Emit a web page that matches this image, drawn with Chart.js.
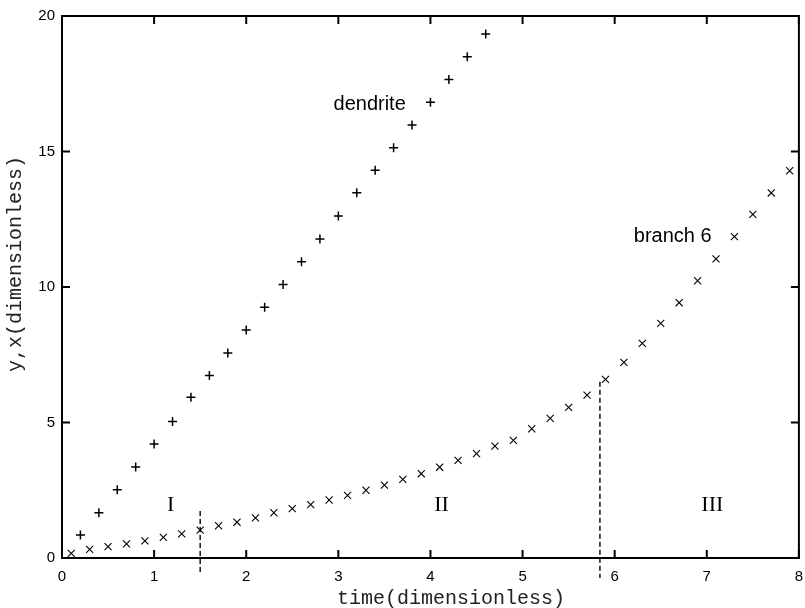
<!DOCTYPE html>
<html>
<head>
<meta charset="utf-8">
<script src="https://cdn.jsdelivr.net/npm/chart.js@4/dist/chart.umd.min.js"></script>
<style>
html,body{margin:0;padding:0;background:#fff;}
canvas{display:block;}
</style>
</head>
<body>
<canvas id="c" width="805" height="608"></canvas>
<script>
// ---- data ----
const dendriteTime = [0.2,0.4,0.6,0.8,1.0,1.2,1.4,1.6,1.8,2.0,2.2,2.4,2.6,2.8,3.0,3.2,3.4,3.6,3.8,4.0,4.2,4.4,4.6];
const dendriteY = [0.85,1.67,2.52,3.36,4.21,5.04,5.93,6.73,7.56,8.41,9.25,10.09,10.93,11.77,12.62,13.48,14.31,15.14,15.98,16.82,17.66,18.5,19.34];
const branchTime = [0.1,0.3,0.5,0.7,0.9,1.1,1.3,1.5,1.7,1.9,2.1,2.3,2.5,2.7,2.9,3.1,3.3,3.5,3.7,3.9,4.1,4.3,4.5,4.7,4.9,5.1,5.3,5.5,5.7,5.9,6.1,6.3,6.5,6.7,6.9,7.1,7.3,7.5,7.7,7.9];
const branchX = [0.17,0.32,0.42,0.52,0.63,0.76,0.89,1.03,1.19,1.32,1.48,1.67,1.82,1.97,2.14,2.31,2.5,2.69,2.9,3.11,3.35,3.6,3.85,4.13,4.34,4.77,5.15,5.56,6.01,6.59,7.22,7.92,8.66,9.42,10.23,11.04,11.86,12.68,13.47,14.29];
const regionBoundaryTime = [1.5, 5.84];
const regionBoundaryTop = [1.73, 6.5];
const regionBoundaryBottom = [-0.6, -0.74];
const regionLabels = ['I','II','III'];
const regionLabelTime = [1.18, 4.12, 7.06];
const regionLabelY = 1.95;
const seriesLabels = ['dendrite','branch 6'];
const seriesLabelPos = [[3.34, 16.75], [6.63, 11.87]];
const xTickValues = [0,1,2,3,4,5,6,7,8];
const yTickValues = [0,5,10,15,20];
const xTitle = 'time(dimensionless)';
const yTitle = 'y,x(dimensionless)';

const toPts = (xs, ys) => xs.map((x, i) => ({x: x, y: ys[i]}));

const datasets = [
  {label: seriesLabels[0], data: toPts(dendriteTime, dendriteY), pointStyle: 'cross', pointRadius: 4.5,
   borderColor: '#000', backgroundColor: '#000', pointBorderWidth: 1.5, showLine: false},
  {label: seriesLabels[1], data: toPts(branchTime, branchX), pointStyle: 'crossRot', pointRadius: 5,
   borderColor: '#000', backgroundColor: '#000', pointBorderWidth: 1.1, showLine: false}
];
regionBoundaryTime.forEach((t, i) => {
  datasets.push({type: 'line', data: [{x: t, y: regionBoundaryTop[i]}, {x: t, y: regionBoundaryBottom[i]}],
    borderColor: '#000', borderWidth: 1.4, borderDash: [5, 3], pointRadius: 0, clip: false, showLine: true});
});

const decor = {
  id: 'decor',
  afterDraw(chart) {
    const ctx = chart.ctx, a = chart.chartArea;
    const xs = chart.scales.x, ys = chart.scales.y;
    ctx.save();
    ctx.strokeStyle = '#000';
    ctx.lineWidth = 2;
    ctx.strokeRect(a.left, a.top, a.right - a.left, a.bottom - a.top);
    const tl = 8;
    ctx.beginPath();
    xTickValues.forEach(v => {
      const px = xs.getPixelForValue(v);
      ctx.moveTo(px, a.bottom); ctx.lineTo(px, a.bottom - tl);
      ctx.moveTo(px, a.top); ctx.lineTo(px, a.top + tl);
    });
    yTickValues.forEach(v => {
      const py = ys.getPixelForValue(v);
      ctx.moveTo(a.left, py); ctx.lineTo(a.left + tl, py);
      ctx.moveTo(a.right, py); ctx.lineTo(a.right - tl, py);
    });
    ctx.stroke();

    ctx.fillStyle = '#000';
    ctx.textAlign = 'center';
    ctx.textBaseline = 'middle';
    ctx.font = '22px "Liberation Serif"';
    regionLabels.forEach((s, i) => {
      ctx.fillText(s, xs.getPixelForValue(regionLabelTime[i]), ys.getPixelForValue(regionLabelY));
    });
    ctx.font = '20px "Liberation Sans"';
    seriesLabels.forEach((s, i) => {
      ctx.fillText(s, xs.getPixelForValue(seriesLabelPos[i][0]), ys.getPixelForValue(seriesLabelPos[i][1]));
    });
    ctx.font = '20px "Liberation Mono"';
    ctx.fillStyle = '#222';
    ctx.fillText(xTitle, 451, 599);
    ctx.translate(16, 264);
    ctx.rotate(-Math.PI / 2);
    ctx.fillText(yTitle, 0, 0);
    ctx.restore();
  }
};

new Chart(document.getElementById('c'), {
  type: 'scatter',
  data: {datasets: datasets},
  options: {
    responsive: false,
    animation: false,
    layout: {padding: {top: 16, right: 6, left: 0, bottom: 0}},
    plugins: {legend: {display: false}, tooltip: {enabled: false}},
    scales: {
      x: {
        type: 'linear', min: 0, max: 8,
        afterBuildTicks: s => { s.ticks = xTickValues.map(v => ({value: v})); },
        ticks: {color: '#000', font: {family: 'Liberation Sans', size: 15}, padding: 10, maxRotation: 0},
        grid: {display: false, drawTicks: false},
        border: {display: false},
        afterFit: s => { s.height = 50; s.paddingLeft = 0; s.paddingRight = 0; }
      },
      y: {
        type: 'linear', min: 0, max: 20,
        afterBuildTicks: s => { s.ticks = yTickValues.map(v => ({value: v})); },
        ticks: {color: '#000', font: {family: 'Liberation Sans', size: 15}, padding: 7},
        grid: {display: false, drawTicks: false},
        border: {display: false},
        afterFit: s => { s.width = 62; s.paddingTop = 0; s.paddingBottom = 0; }
      }
    }
  },
  plugins: [decor]
});
</script>
</body>
</html>
